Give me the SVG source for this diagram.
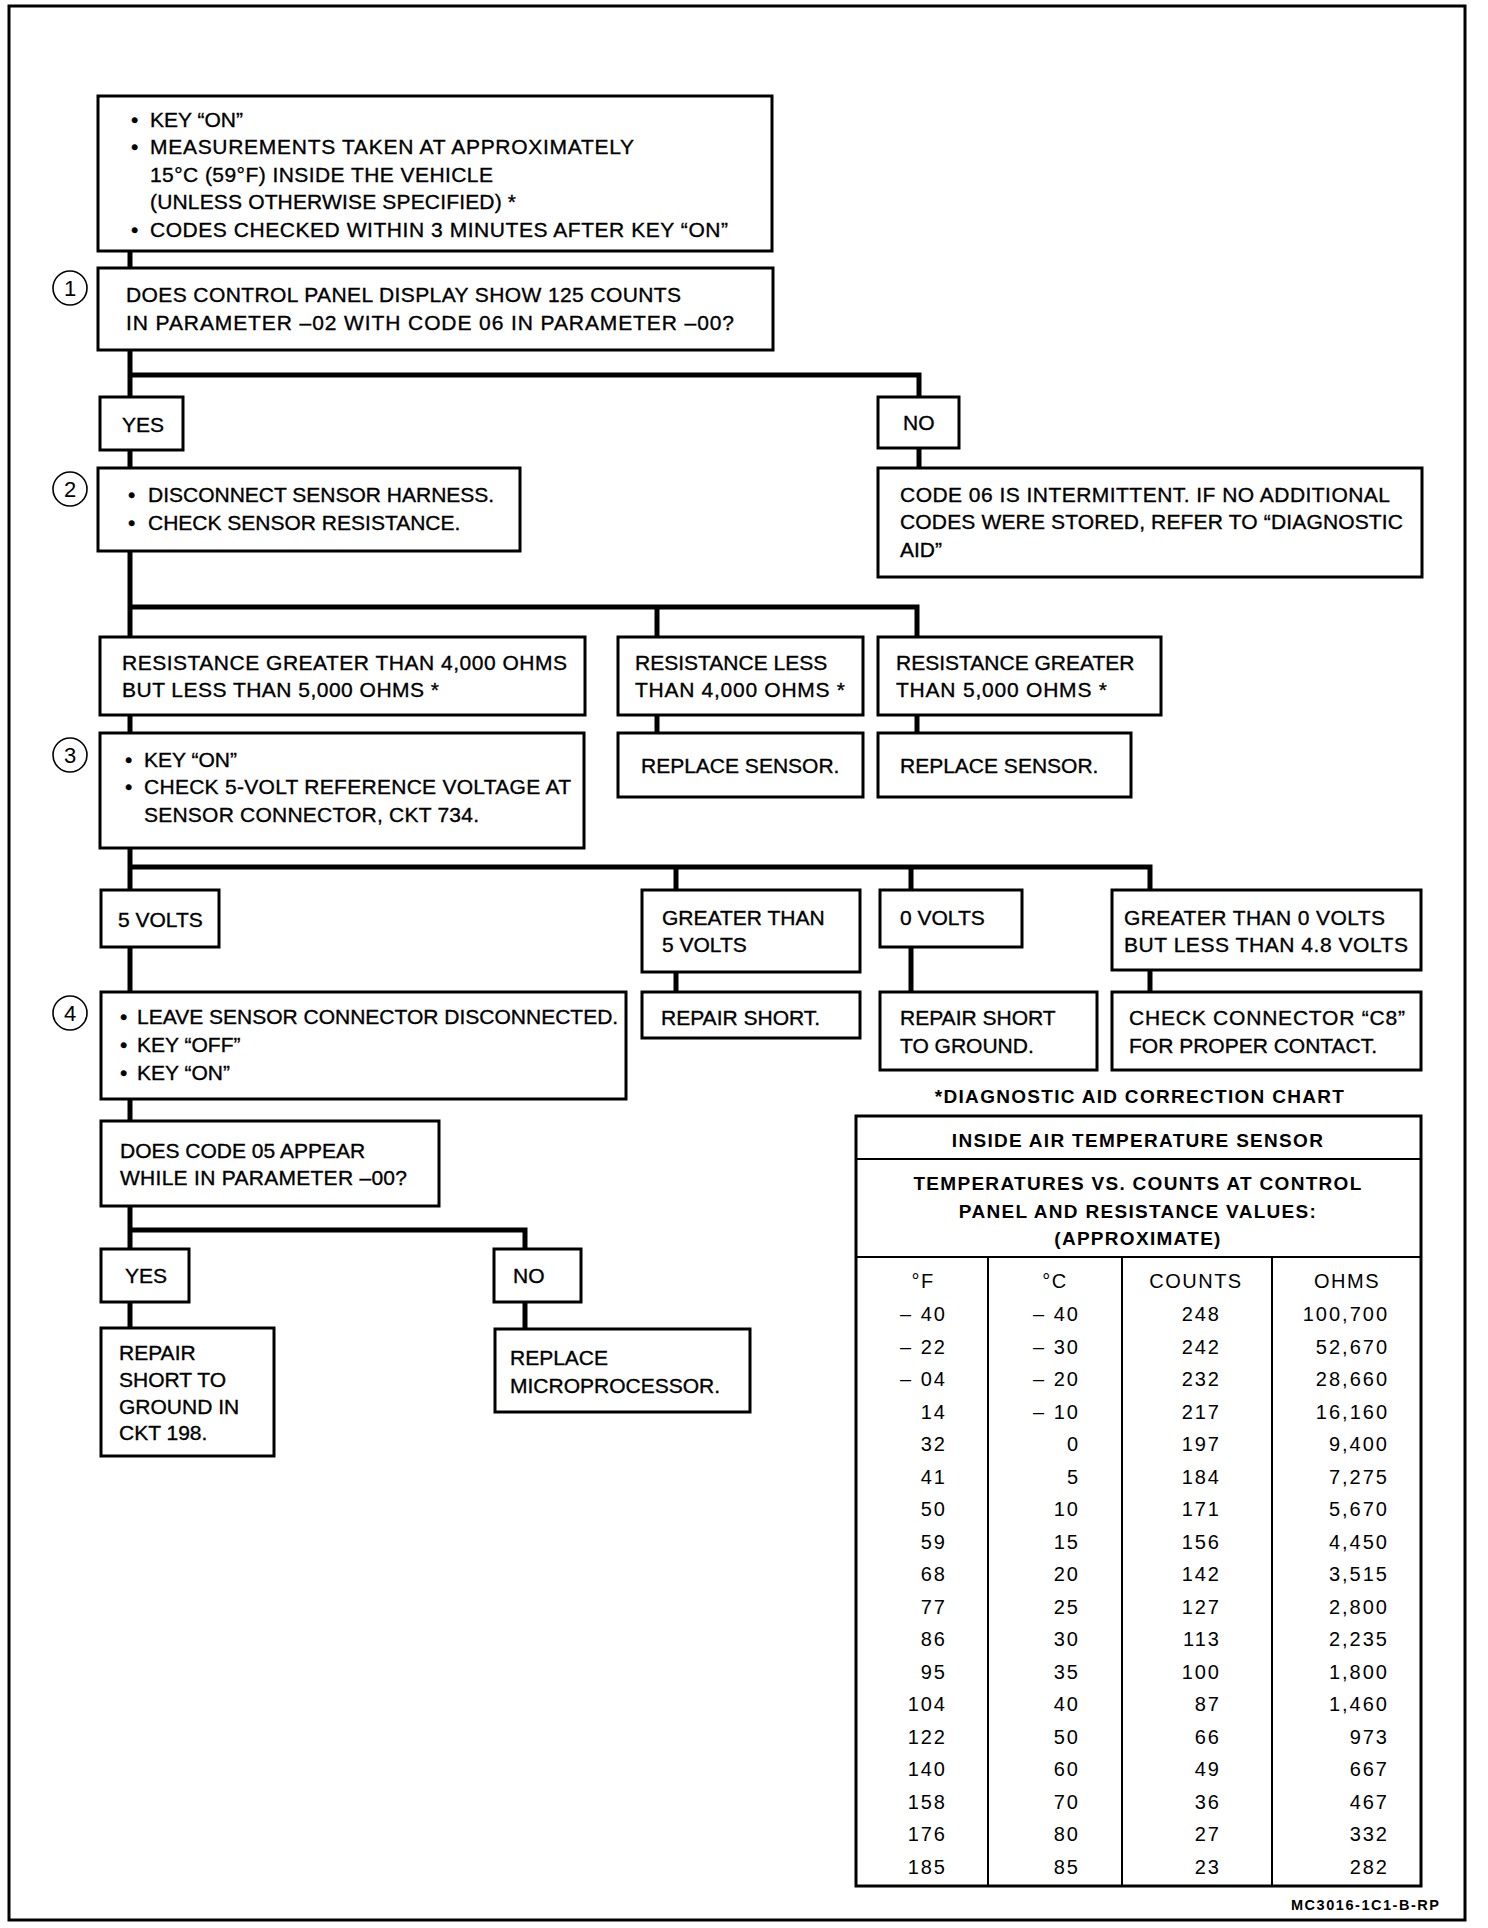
<svg xmlns="http://www.w3.org/2000/svg" width="1488" height="1928" viewBox="0 0 1488 1928">
<style>
.bx{fill:#fff;stroke:#000;stroke-width:3}
.cn{fill:none;stroke:#000;stroke-width:5;stroke-linejoin:miter;stroke-linecap:butt}
.t{font-family:"Liberation Sans",Arial,sans-serif;font-size:21px;fill:#000;stroke:#000;stroke-width:0.35}
.c{fill:none;stroke:#000;stroke-width:1.6}
.cd{font-family:"Liberation Sans",Arial,sans-serif;font-size:22px;fill:#000;text-anchor:middle}
.hb{font-family:"Liberation Sans",Arial,sans-serif;font-size:19px;font-weight:bold;letter-spacing:1.3px;fill:#000;text-anchor:middle}
.n{font-family:"Liberation Sans",Arial,sans-serif;font-size:20px;letter-spacing:2px;fill:#000;text-anchor:end}
.h{font-family:"Liberation Sans",Arial,sans-serif;font-size:20px;letter-spacing:1.5px;fill:#000;text-anchor:middle}
.tl{fill:none;stroke:#000;stroke-width:2}
</style>
<rect x="9" y="6" width="1456" height="1914" fill="#fff" stroke="#000" stroke-width="3"/>

<g id="connectors">
<path class="cn" d="M130 251V268"/>
<path class="cn" d="M130 350V397"/>
<path class="cn" d="M130 375H919V397"/>
<path class="cn" d="M130 450V468"/>
<path class="cn" d="M919 448V468"/>
<path class="cn" d="M130 551V637"/>
<path class="cn" d="M130 607H917V637"/>
<path class="cn" d="M657 607V637"/>
<path class="cn" d="M130 715V733"/>
<path class="cn" d="M657 715V733"/>
<path class="cn" d="M917 715V733"/>
<path class="cn" d="M130 848V890"/>
<path class="cn" d="M130 867H1150V890"/>
<path class="cn" d="M676 867V890"/>
<path class="cn" d="M911 867V890"/>
<path class="cn" d="M130 947V992"/>
<path class="cn" d="M676 972V992"/>
<path class="cn" d="M911 947V992"/>
<path class="cn" d="M1150 970V992"/>
<path class="cn" d="M130 1099V1121"/>
<path class="cn" d="M130 1206V1249"/>
<path class="cn" d="M130 1230H525V1249"/>
<path class="cn" d="M130 1302V1328"/>
<path class="cn" d="M525 1302V1329"/>
</g>

<g id="n-start">
<rect class="bx" x="98" y="96" width="674" height="155"/>
<text class="t" x="131" y="127">•</text><text class="t" x="150" y="127">KEY “ON”</text>
<text class="t" x="131" y="154">•</text><text class="t" x="150" y="154" textLength="484">MEASUREMENTS TAKEN AT APPROXIMATELY</text>
<text class="t" x="150" y="182" textLength="343">15°C (59°F) INSIDE THE VEHICLE</text>
<text class="t" x="150" y="209" textLength="366">(UNLESS OTHERWISE SPECIFIED) *</text>
<text class="t" x="131" y="237">•</text><text class="t" x="150" y="237" textLength="578">CODES CHECKED WITHIN 3 MINUTES AFTER KEY “ON”</text>
</g>

<g id="step1">
<circle class="c" cx="70" cy="288" r="17"/><text class="cd" x="70" y="296">1</text>
<rect class="bx" x="98" y="268" width="675" height="82"/>
<text class="t" x="126" y="302" textLength="555">DOES CONTROL PANEL DISPLAY SHOW 125 COUNTS</text>
<text class="t" x="126" y="330" textLength="608">IN PARAMETER –02 WITH CODE 06 IN PARAMETER –00?</text>
</g>

<g id="yes1"><rect class="bx" x="100" y="397" width="83" height="53"/><text class="t" x="122" y="432">YES</text></g>
<g id="no1"><rect class="bx" x="878" y="397" width="81" height="51"/><text class="t" x="903" y="430">NO</text></g>

<g id="step2">
<circle class="c" cx="70" cy="489" r="17"/><text class="cd" x="70" y="497">2</text>
<rect class="bx" x="98" y="468" width="422" height="83"/>
<text class="t" x="128" y="502">•</text><text class="t" x="148" y="502">DISCONNECT SENSOR HARNESS.</text>
<text class="t" x="128" y="530">•</text><text class="t" x="148" y="530">CHECK SENSOR RESISTANCE.</text>
</g>

<g id="intermittent">
<rect class="bx" x="878" y="468" width="544" height="109"/>
<text class="t" x="900" y="502" textLength="490">CODE 06 IS INTERMITTENT. IF NO ADDITIONAL</text>
<text class="t" x="900" y="529" textLength="503">CODES WERE STORED, REFER TO “DIAGNOSTIC</text>
<text class="t" x="900" y="557">AID”</text>
</g>

<g id="r-mid"><rect class="bx" x="100" y="637" width="485" height="78"/>
<text class="t" x="122" y="670" textLength="445">RESISTANCE GREATER THAN 4,000 OHMS</text>
<text class="t" x="122" y="697" textLength="317">BUT LESS THAN 5,000 OHMS *</text></g>
<g id="r-low"><rect class="bx" x="618" y="637" width="245" height="78"/>
<text class="t" x="635" y="670">RESISTANCE LESS</text>
<text class="t" x="635" y="697" textLength="210">THAN 4,000 OHMS *</text></g>
<g id="r-high"><rect class="bx" x="878" y="637" width="283" height="78"/>
<text class="t" x="896" y="670">RESISTANCE GREATER</text>
<text class="t" x="896" y="697" textLength="211">THAN 5,000 OHMS *</text></g>

<g id="step3">
<circle class="c" cx="70" cy="755" r="17"/><text class="cd" x="70" y="763">3</text>
<rect class="bx" x="100" y="733" width="484" height="115"/>
<text class="t" x="125" y="767">•</text><text class="t" x="144" y="767">KEY “ON”</text>
<text class="t" x="125" y="794">•</text><text class="t" x="144" y="794" textLength="427">CHECK 5-VOLT REFERENCE VOLTAGE AT</text>
<text class="t" x="144" y="822" textLength="335">SENSOR CONNECTOR, CKT 734.</text>
</g>
<g id="rs1"><rect class="bx" x="618" y="733" width="245" height="64"/><text class="t" x="641" y="773">REPLACE SENSOR.</text></g>
<g id="rs2"><rect class="bx" x="878" y="733" width="253" height="64"/><text class="t" x="900" y="773">REPLACE SENSOR.</text></g>

<g id="v5"><rect class="bx" x="101" y="890" width="118" height="57"/><text class="t" x="118" y="927">5 VOLTS</text></g>
<g id="gt5"><rect class="bx" x="642" y="890" width="218" height="82"/>
<text class="t" x="662" y="925">GREATER THAN</text><text class="t" x="662" y="952">5 VOLTS</text></g>
<g id="v0"><rect class="bx" x="880" y="890" width="142" height="57"/><text class="t" x="900" y="925">0 VOLTS</text></g>
<g id="gt0"><rect class="bx" x="1112" y="890" width="309" height="80"/>
<text class="t" x="1124" y="925" textLength="261">GREATER THAN 0 VOLTS</text><text class="t" x="1124" y="952" textLength="284">BUT LESS THAN 4.8 VOLTS</text></g>

<g id="step4">
<circle class="c" cx="70" cy="1013" r="17"/><text class="cd" x="70" y="1021">4</text>
<rect class="bx" x="101" y="992" width="525" height="107"/>
<text class="t" x="120" y="1024">•</text><text class="t" x="137" y="1024">LEAVE SENSOR CONNECTOR DISCONNECTED.</text>
<text class="t" x="120" y="1052">•</text><text class="t" x="137" y="1052">KEY “OFF”</text>
<text class="t" x="120" y="1080">•</text><text class="t" x="137" y="1080">KEY “ON”</text>
</g>
<g id="rsh"><rect class="bx" x="642" y="992" width="218" height="46"/><text class="t" x="661" y="1025">REPAIR SHORT.</text></g>
<g id="rsg"><rect class="bx" x="880" y="992" width="217" height="78"/>
<text class="t" x="900" y="1025">REPAIR SHORT</text><text class="t" x="900" y="1053">TO GROUND.</text></g>
<g id="chk"><rect class="bx" x="1112" y="992" width="309" height="78"/>
<text class="t" x="1129" y="1025" textLength="276">CHECK CONNECTOR “C8”</text><text class="t" x="1129" y="1053">FOR PROPER CONTACT.</text></g>

<g id="q05"><rect class="bx" x="101" y="1121" width="338" height="85"/>
<text class="t" x="120" y="1158">DOES CODE 05 APPEAR</text><text class="t" x="120" y="1185" textLength="287">WHILE IN PARAMETER –00?</text></g>
<g id="yes2"><rect class="bx" x="101" y="1249" width="88" height="53"/><text class="t" x="125" y="1283">YES</text></g>
<g id="no2"><rect class="bx" x="494" y="1249" width="87" height="53"/><text class="t" x="513" y="1283">NO</text></g>
<g id="rep198"><rect class="bx" x="101" y="1328" width="173" height="128"/>
<text class="t" x="119" y="1360">REPAIR</text><text class="t" x="119" y="1387">SHORT TO</text>
<text class="t" x="119" y="1414">GROUND IN</text><text class="t" x="119" y="1440">CKT 198.</text></g>
<g id="rmp"><rect class="bx" x="495" y="1329" width="255" height="83"/>
<text class="t" x="510" y="1365">REPLACE</text><text class="t" x="510" y="1393">MICROPROCESSOR.</text></g>

<g id="chart">
<text class="hb" x="1140" y="1103">*DIAGNOSTIC AID CORRECTION CHART</text>
<rect x="856" y="1116" width="565" height="770" fill="#fff" stroke="#000" stroke-width="3"/>
<path class="tl" d="M856 1159H1421M856 1257H1421M988 1257V1886M1122 1257V1886M1272 1257V1886"/>
<text class="hb" x="1138" y="1147">INSIDE AIR TEMPERATURE SENSOR</text>
<text class="hb" x="1138" y="1190">TEMPERATURES VS. COUNTS AT CONTROL</text>
<text class="hb" x="1138" y="1218">PANEL AND RESISTANCE VALUES:</text>
<text class="hb" x="1138" y="1245">(APPROXIMATE)</text>
<text class="h" x="923" y="1288">°F</text>
<text class="h" x="1055" y="1288">°C</text>
<text class="h" x="1196" y="1288">COUNTS</text>
<text class="h" x="1347" y="1288">OHMS</text>
<g transform="translate(2 0)">
<text class="n" x="945" y="1321">– 40</text><text class="n" x="1078" y="1321">– 40</text><text class="n" x="1219" y="1321">248</text><text class="n" x="1387" y="1321">100,700</text>
<text class="n" x="945" y="1353.5">– 22</text><text class="n" x="1078" y="1353.5">– 30</text><text class="n" x="1219" y="1353.5">242</text><text class="n" x="1387" y="1353.5">52,670</text>
<text class="n" x="945" y="1386">– 04</text><text class="n" x="1078" y="1386">– 20</text><text class="n" x="1219" y="1386">232</text><text class="n" x="1387" y="1386">28,660</text>
<text class="n" x="945" y="1418.5">14</text><text class="n" x="1078" y="1418.5">– 10</text><text class="n" x="1219" y="1418.5">217</text><text class="n" x="1387" y="1418.5">16,160</text>
<text class="n" x="945" y="1451">32</text><text class="n" x="1078" y="1451">0</text><text class="n" x="1219" y="1451">197</text><text class="n" x="1387" y="1451">9,400</text>
<text class="n" x="945" y="1483.5">41</text><text class="n" x="1078" y="1483.5">5</text><text class="n" x="1219" y="1483.5">184</text><text class="n" x="1387" y="1483.5">7,275</text>
<text class="n" x="945" y="1516">50</text><text class="n" x="1078" y="1516">10</text><text class="n" x="1219" y="1516">171</text><text class="n" x="1387" y="1516">5,670</text>
<text class="n" x="945" y="1548.5">59</text><text class="n" x="1078" y="1548.5">15</text><text class="n" x="1219" y="1548.5">156</text><text class="n" x="1387" y="1548.5">4,450</text>
<text class="n" x="945" y="1581">68</text><text class="n" x="1078" y="1581">20</text><text class="n" x="1219" y="1581">142</text><text class="n" x="1387" y="1581">3,515</text>
<text class="n" x="945" y="1613.5">77</text><text class="n" x="1078" y="1613.5">25</text><text class="n" x="1219" y="1613.5">127</text><text class="n" x="1387" y="1613.5">2,800</text>
<text class="n" x="945" y="1646">86</text><text class="n" x="1078" y="1646">30</text><text class="n" x="1219" y="1646">113</text><text class="n" x="1387" y="1646">2,235</text>
<text class="n" x="945" y="1678.5">95</text><text class="n" x="1078" y="1678.5">35</text><text class="n" x="1219" y="1678.5">100</text><text class="n" x="1387" y="1678.5">1,800</text>
<text class="n" x="945" y="1711">104</text><text class="n" x="1078" y="1711">40</text><text class="n" x="1219" y="1711">87</text><text class="n" x="1387" y="1711">1,460</text>
<text class="n" x="945" y="1743.5">122</text><text class="n" x="1078" y="1743.5">50</text><text class="n" x="1219" y="1743.5">66</text><text class="n" x="1387" y="1743.5">973</text>
<text class="n" x="945" y="1776">140</text><text class="n" x="1078" y="1776">60</text><text class="n" x="1219" y="1776">49</text><text class="n" x="1387" y="1776">667</text>
<text class="n" x="945" y="1808.5">158</text><text class="n" x="1078" y="1808.5">70</text><text class="n" x="1219" y="1808.5">36</text><text class="n" x="1387" y="1808.5">467</text>
<text class="n" x="945" y="1841">176</text><text class="n" x="1078" y="1841">80</text><text class="n" x="1219" y="1841">27</text><text class="n" x="1387" y="1841">332</text>
<text class="n" x="945" y="1873.5">185</text><text class="n" x="1078" y="1873.5">85</text><text class="n" x="1219" y="1873.5">23</text><text class="n" x="1387" y="1873.5">282</text>
</g>
</g>
<text x="1291" y="1910" font-family="Liberation Sans, Arial, sans-serif" font-size="14.5" font-weight="bold" textLength="148">MC3016-1C1-B-RP</text>
</svg>
